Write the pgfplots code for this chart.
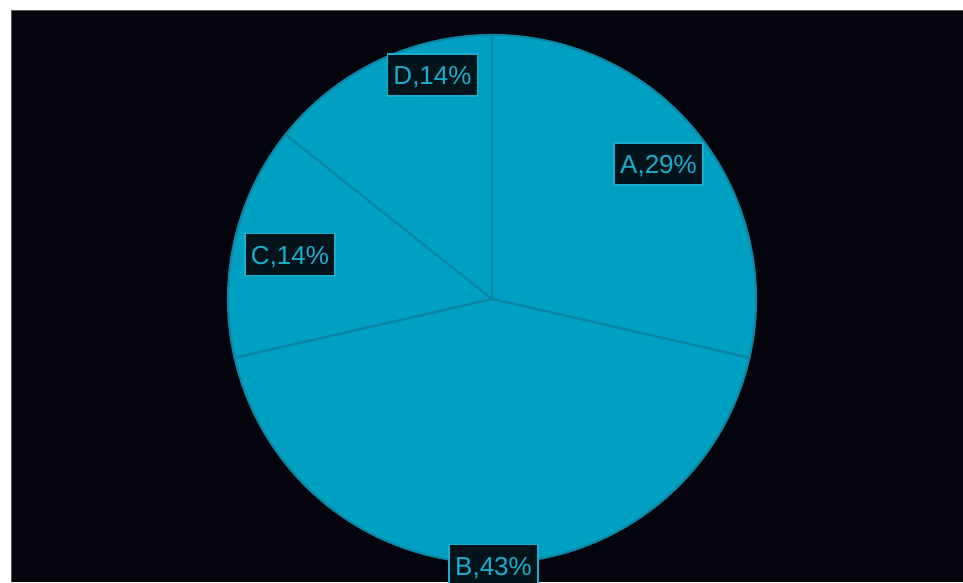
\documentclass[border=0pt]{standalone}
\usepackage{pgfplots}
\pgfplotsset{compat=1.18}
\usepackage{fontspec}
\setmainfont{Liberation Sans}
\definecolor{bgdark}{HTML}{04040C}
\definecolor{piefill}{HTML}{00A0C2}
\definecolor{pieedge}{HTML}{0C86A4}
\definecolor{lblfill}{HTML}{03151B}
\definecolor{lbltext}{HTML}{1CADCE}
\definecolor{frame}{HTML}{5A5A5E}
\begin{document}
\begin{tikzpicture}
% values: A=2, B=3, C=1, D=1 (total 7)
\pgfmathsetmacro{\tot}{2+3+1+1}
\pgfmathsetmacro{\aA}{90}
\pgfmathsetmacro{\aB}{\aA-360*2/\tot}
\pgfmathsetmacro{\aC}{\aB-360*3/\tot}
\pgfmathsetmacro{\aD}{\aC-360*1/\tot}
\pgfmathsetmacro{\aE}{\aD-360*1/\tot}
\tikzset{lbl/.style={fill=lblfill, draw=lbltext, text=lbltext, line width=1.1pt,
  font=\fontsize{19.5}{22}\selectfont,
  inner xsep=4.5pt, inner ysep=7pt, text height=16pt, text depth=1.5pt}}
\begin{axis}[hide axis, scale only axis, width=722.25pt, height=436.5pt,
  xmin=0, xmax=963, ymin=0, ymax=582, clip=true]
\addplot[draw=none] coordinates {(0,0) (963,582)};
\fill[white] (axis cs:0,0) rectangle (axis cs:963,582);
\fill[bgdark] (axis cs:11.5,0) rectangle (axis cs:963,571.5);
\draw[frame, line width=1pt] (axis cs:11.5,0) -- (axis cs:11.5,571.5) -- (axis cs:963,571.5);
% slices
\filldraw[fill=piefill, draw=pieedge, line width=1.6pt, line join=round]
  (axis cs:492,283) -- ++(\aA:198pt) arc[start angle=\aA, end angle=\aB, radius=198pt] -- cycle;
\filldraw[fill=piefill, draw=pieedge, line width=1.6pt, line join=round]
  (axis cs:492,283) -- ++(\aB:198pt) arc[start angle=\aB, end angle=\aC, radius=198pt] -- cycle;
\filldraw[fill=piefill, draw=pieedge, line width=1.6pt, line join=round]
  (axis cs:492,283) -- ++(\aC:198pt) arc[start angle=\aC, end angle=\aD, radius=198pt] -- cycle;
\filldraw[fill=piefill, draw=pieedge, line width=1.6pt, line join=round]
  (axis cs:492,283) -- ++(\aD:198pt) arc[start angle=\aD, end angle=\aE, radius=198pt] -- cycle;
% labels
\node[lbl] at (axis cs:658.5,418) {A,29\%};
\node[lbl] at (axis cs:493.5,16.5) {B,43\%};
\node[lbl] at (axis cs:290,327.5) {C,14\%};
\node[lbl] at (axis cs:432.5,507) {D,14\%};
\end{axis}
\pgfresetboundingbox
\useasboundingbox (0,0) rectangle (722.25pt,436.5pt);
\end{tikzpicture}
\end{document}
